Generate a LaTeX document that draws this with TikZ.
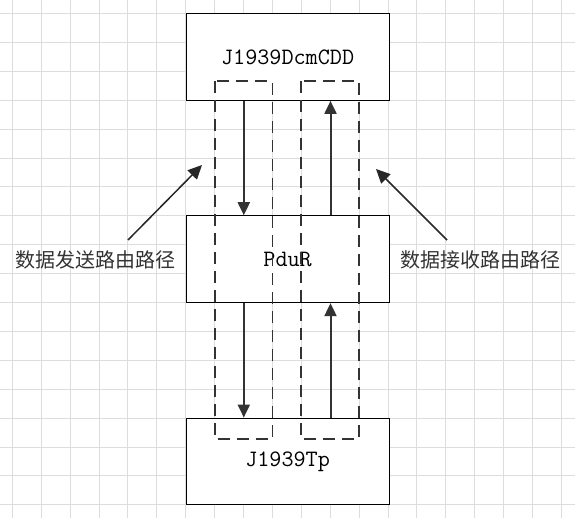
\documentclass[tikz,border=0pt]{standalone}
\usepackage{fontspec}
\newfontfamily\cjk{Noto Sans CJK SC}
\usetikzlibrary{arrows.meta}
\definecolor{gridc}{HTML}{DDDDDD}
\definecolor{ink}{HTML}{333333}
\tikzset{
  modbox/.style={draw=black, fill=white, line width=1.2pt, minimum width=203pt, minimum height=86.7pt, inner sep=0pt,
    font=\fontsize{23.5}{28}\selectfont\ttfamily, text=black},
  pathbox/.style={draw=ink, line width=1.8pt, dash pattern=on 12pt off 7pt},
  flow/.style={draw=ink, line width=2pt, -{Triangle[length=13pt,width=12pt]}},
  pointer/.style={draw=black!85, line width=1.5pt, -{Triangle[length=14pt,width=13pt]}},
  lbl/.style={font=\fontsize{20}{22}\selectfont\cjk, text=black!80, inner sep=0pt}
}
\begin{document}
\begin{tikzpicture}[x=1pt,y=-1pt]
\useasboundingbox (0,0) rectangle (575,518);
% grid
\foreach \i in {0,...,19} {
  \draw[gridc, line width=0.9pt] ({12.3+28.9*\i},0) -- ({12.3+28.9*\i},518);
}
\foreach \j in {0,...,17} {
  \draw[gridc, line width=0.9pt] (0,{13.5+28.9*\j}) -- (575,{13.5+28.9*\j});
}
% modules
\node[modbox] (dcm) at (287.6,56.9) {J1939DcmCDD};
\node[modbox] (pdur) at (287.6,259.2) {PduR};
\node[modbox] (tp) at (287.6,461.5) {J1939Tp};
% x positions of the flows
\coordinate (lx) at (243.8,0);
\coordinate (rx) at (330.5,0);
% flows
\draw[flow] (dcm.south -| lx) -- (pdur.north -| lx);
\draw[flow] (pdur.south -| lx) -- (tp.north -| lx);
\draw[flow] (tp.north -| rx) -- (pdur.south -| rx);
\draw[flow] (pdur.north -| rx) -- (dcm.south -| rx);
% dashed path outlines
\draw[pathbox] (214.6,81) rectangle (272.4,439);
\draw[pathbox] (301.3,81) rectangle (359.1,439);
% labels
\node[lbl] (send) at (95,260) {数据发送路由路径};
\node[lbl] (recv) at (480,260) {数据接收路由路径};
\coordinate (sendtail) at (128,240);
\coordinate (sendtip) at (202,165);
\coordinate (recvtail) at (447,240);
\coordinate (recvtip) at (376,169);
\draw[pointer] (sendtail) -- (sendtip);
\draw[pointer] (recvtail) -- (recvtip);
\end{tikzpicture}
\end{document}
